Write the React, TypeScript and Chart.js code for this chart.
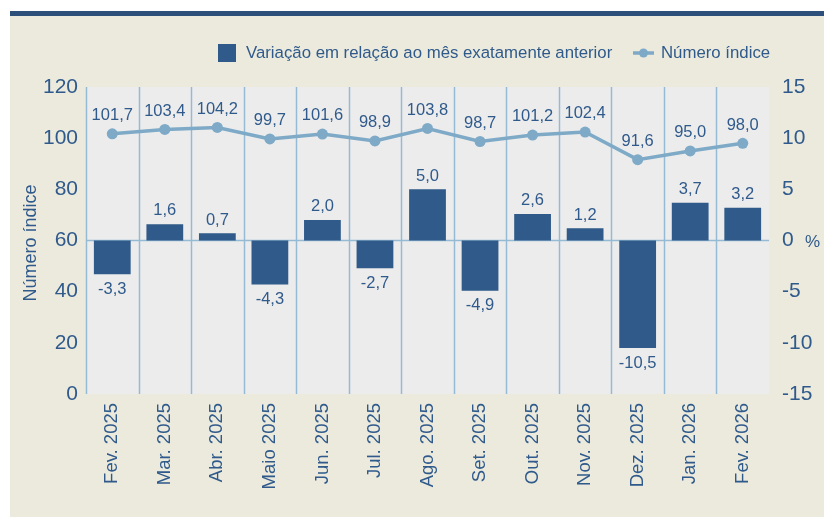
import React, { useEffect, useRef } from "react";
import { Chart, registerables } from "chart.js";

Chart.register(...registerables);

const categories = [
  "Fev. 2025", "Mar. 2025", "Abr. 2025", "Maio 2025", "Jun. 2025", "Jul. 2025",
  "Ago. 2025", "Set. 2025", "Out. 2025", "Nov. 2025", "Dez. 2025", "Jan. 2026", "Fev. 2026",
];
const variacao = [-3.3, 1.6, 0.7, -4.3, 2.0, -2.7, 5.0, -4.9, 2.6, 1.2, -10.5, 3.7, 3.2];
const indice = [101.7, 103.4, 104.2, 99.7, 101.6, 98.9, 103.8, 98.7, 101.2, 102.4, 91.6, 95.0, 98.0];
const barLabel = "Variação em relação ao mês exatamente anterior";
const lineLabel = "Número índice";
const leftTitle = "Número índice";
const rightUnit = "%";

const FONT = "'Liberation Sans', Arial, Helvetica, sans-serif";
const TEXT = "#2f5a8b";
const BAR = "#2f5a89";
const LINE = "#7eaac7";
const GRID = "#95bad3";
const BEIGE = "#ebeadd";
const PLOTBG = "#ececec";
const TOPBAR = "#2c5079";

const fmt = (v: number) => v.toFixed(1).replace(".", ",");

const decor = {
  id: "decor",
  beforeDraw(chart: any) {
    const ctx = chart.ctx;
    ctx.save();
    ctx.fillStyle = "#ffffff";
    ctx.fillRect(0, 0, chart.width, chart.height);
    ctx.fillStyle = BEIGE;
    ctx.fillRect(10, 16, chart.width - 10, chart.height - 16);
    ctx.fillStyle = TOPBAR;
    ctx.fillRect(10, 11, chart.width - 10, 5);
    ctx.restore();
  },
  beforeDatasetsDraw(chart: any) {
    const ctx = chart.ctx;
    const a = chart.chartArea;
    const x = chart.scales.x;
    const y1 = chart.scales.y1;
    ctx.save();
    ctx.fillStyle = PLOTBG;
    ctx.fillRect(a.left, a.top, a.right - a.left, a.bottom - a.top);
    ctx.strokeStyle = GRID;
    ctx.lineWidth = 1.5;
    const n = categories.length;
    const w = (a.right - a.left) / n;
    for (let i = 0; i < n; i++) {
      const gx = Math.round(a.left + i * w) + 0.5;
      ctx.beginPath();
      ctx.moveTo(gx, a.top);
      ctx.lineTo(gx, a.bottom);
      ctx.stroke();
    }
    const zy = y1.getPixelForValue(0);
    ctx.beginPath();
    ctx.moveTo(a.left, zy);
    ctx.lineTo(a.right, zy);
    ctx.stroke();
    ctx.restore();
  },
  afterDatasetsDraw(chart: any) {
    const ctx = chart.ctx;
    ctx.save();
    ctx.fillStyle = TEXT;
    ctx.font = `16.5px ${FONT}`;
    ctx.textAlign = "center";
    const barMeta = chart.getDatasetMeta(1);
    barMeta.data.forEach((el: any, i: number) => {
      const v = variacao[i];
      if (v >= 0) {
        ctx.textBaseline = "bottom";
        ctx.fillText(fmt(v), el.x, el.y - 5);
      } else {
        ctx.textBaseline = "top";
        ctx.fillText(fmt(v), el.x, el.y + 7);
      }
    });
    const lineMeta = chart.getDatasetMeta(0);
    ctx.textBaseline = "bottom";
    lineMeta.data.forEach((el: any, i: number) => {
      ctx.fillText(fmt(indice[i]), el.x, el.y - 10);
    });
    ctx.restore();
  },
  afterDraw(chart: any) {
    const ctx = chart.ctx;
    ctx.save();
    // legend
    ctx.fillStyle = BAR;
    ctx.fillRect(218, 44, 18, 18);
    ctx.fillStyle = TEXT;
    ctx.font = `16.8px ${FONT}`;
    ctx.textAlign = "left";
    ctx.textBaseline = "middle";
    ctx.fillText(barLabel, 246, 53);
    ctx.strokeStyle = LINE;
    ctx.lineWidth = 3.5;
    ctx.beginPath();
    ctx.moveTo(633, 53);
    ctx.lineTo(654, 53);
    ctx.stroke();
    ctx.fillStyle = LINE;
    ctx.beginPath();
    ctx.arc(643.5, 53, 4.5, 0, Math.PI * 2);
    ctx.fill();
    ctx.fillStyle = TEXT;
    ctx.fillText(lineLabel, 661, 53);
    // right unit
    ctx.font = `17px ${FONT}`;
    ctx.fillText(rightUnit, 805, 242);
    // left title
    ctx.translate(31, 243);
    ctx.rotate(-Math.PI / 2);
    ctx.textAlign = "center";
    ctx.font = `18px ${FONT}`;
    ctx.fillText(leftTitle, 0, 0);
    ctx.restore();
  },
};

export default function App() {
  const ref = useRef<HTMLCanvasElement | null>(null);
  useEffect(() => {
    if (!ref.current) return;
    const chart = new Chart(ref.current, {
      type: "bar",
      data: {
        labels: categories,
        datasets: [
          {
            type: "line",
            label: lineLabel,
            data: indice,
            yAxisID: "y",
            borderColor: LINE,
            backgroundColor: LINE,
            borderWidth: 3.5,
            pointRadius: 5.5,
            pointBackgroundColor: LINE,
            pointBorderWidth: 0,
            tension: 0,
            order: 0,
          } as any,
          {
            type: "bar",
            label: barLabel,
            data: variacao,
            yAxisID: "y1",
            backgroundColor: BAR,
            borderWidth: 0,
            categoryPercentage: 1,
            barPercentage: 0.7,
            order: 1,
          },
        ],
      },
      options: {
        responsive: false,
        animation: false,
        layout: { padding: { top: 87, left: 0, right: 0, bottom: 0 } },
        plugins: { legend: { display: false }, tooltip: { enabled: false } },
        scales: {
          x: {
            offset: true,
            grid: { display: false, drawTicks: false },
            border: { display: false },
            ticks: {
              autoSkip: false,
              minRotation: 90,
              maxRotation: 90,
              padding: 9,
              color: TEXT,
              font: { family: FONT, size: 18.5 },
            },
            afterFit: (s: any) => { s.height = 123; },
          },
          y: {
            position: "left",
            min: 0,
            max: 120,
            grid: { display: false, drawTicks: false },
            border: { display: false },
            ticks: {
              stepSize: 20,
              padding: 8,
              color: TEXT,
              font: { family: FONT, size: 21 },
            },
            afterFit: (s: any) => { s.width = 86; },
          },
          y1: {
            position: "right",
            min: -15,
            max: 15,
            grid: { display: false, drawTicks: false },
            border: { display: false },
            ticks: {
              stepSize: 5,
              padding: 13,
              color: TEXT,
              font: { family: FONT, size: 21 },
            },
            afterFit: (s: any) => { s.width = 55; },
          },
        },
      },
      plugins: [decor],
    });
    return () => chart.destroy();
  }, []);
  return (
    <div style={{ position: "fixed", left: 0, top: 0, width: 824, height: 517 }}>
      <canvas ref={ref} width={824} height={517} style={{ display: "block" }} />
    </div>
  );
}
